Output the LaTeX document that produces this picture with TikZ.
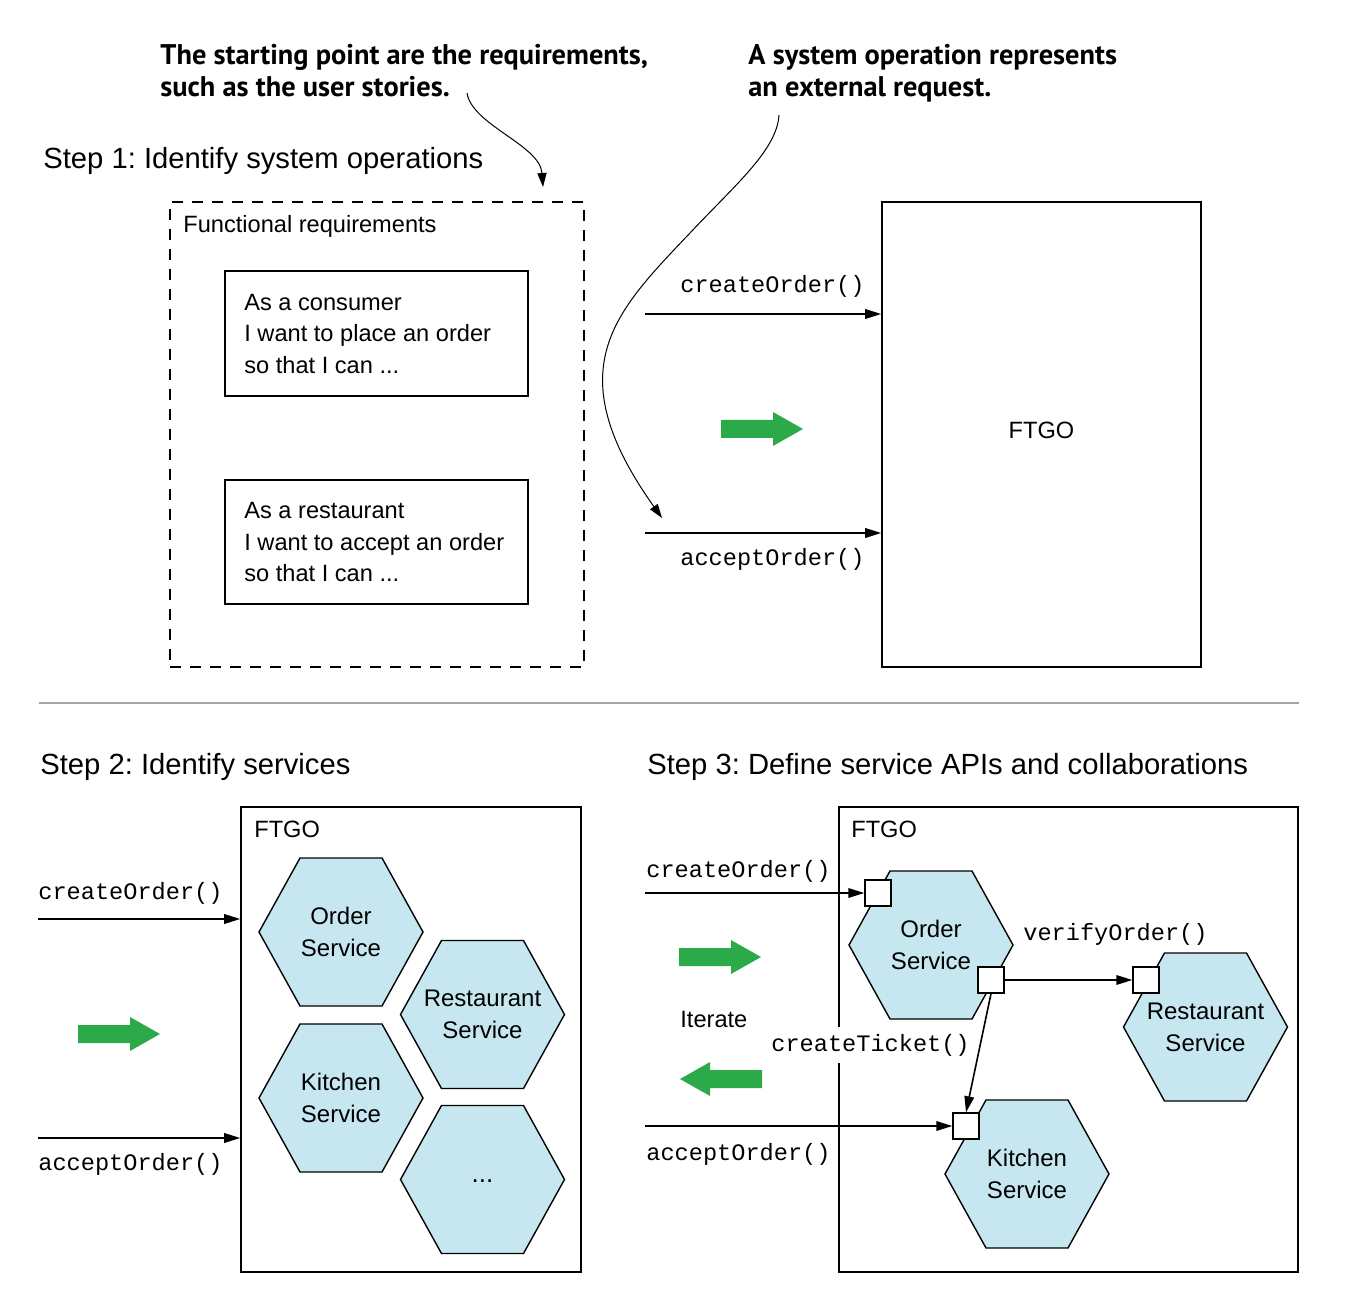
\documentclass[tikz,border=0pt]{standalone}
\usepackage{fontspec}
\setmainfont{Liberation Sans}
\setmonofont{Liberation Mono}
\newfontfamily\annfont{PT Sans}
\usetikzlibrary{arrows.meta}
\frenchspacing
\definecolor{hexfill}{RGB}{199,231,240}
\definecolor{gogreen}{RGB}{44,170,74}
\definecolor{sepgray}{RGB}{165,165,165}
\newcommand\HexCell[4]{%
  \draw[hexshape, shift={(#2,#3)}] (-82,0) -- (-41,-74) -- (41,-74) -- (82,0) -- (41,74) -- (-41,74) -- cycle;
  \node[hextext] (#1) at (#2,#3) {#4};}
\newcommand\GoArrow[3]{%
  \fill[gogreen, shift={(#1,#2)}, xscale=#3] (0,-9) -- (52,-9) -- (52,-17) -- (82,0) -- (52,17) -- (52,9) -- (0,9) -- cycle;}
\tikzset{
  conn/.style={line width=0.8pt, -{Triangle[length=8pt,width=4.8pt]}},
  curv/.style={line width=0.5pt, -{Triangle[length=7pt,width=4.6pt]}},
  frame/.style={draw, line width=0.8pt, inner sep=0pt},
  body/.style={font=\fontsize{11.8}{15.75}\selectfont},
  title/.style={anchor=base west, inner sep=0pt, font=\fontsize{14.6}{17}\selectfont},
  ann/.style={anchor=north west, inner sep=0pt, align=left, font=\annfont\bfseries\fontsize{14.2}{16}\selectfont},
  code/.style={anchor=base west, inner sep=0pt, font=\ttfamily\fontsize{11.8}{14}\selectfont},
  hexshape/.style={draw, fill=hexfill, line width=0.7pt, line join=miter},
  hextext/.style={align=center, inner sep=0pt, font=\fontsize{12}{16}\selectfont},
  port/.style={draw, fill=white, line width=0.7pt, minimum size=13pt, inner sep=0pt},
  storybox/.style={frame, minimum width=151.5pt, minimum height=62.5pt},
  storytext/.style={body, anchor=west, align=left, inner sep=0pt},
}
\begin{document}
\begin{tikzpicture}[x=0.5pt, y=-0.5pt]
\useasboundingbox (0,0) rectangle (1356,1316);

% ---------- annotations ----------
\node[ann] (ann1) at (160,44) {The starting point are the requirements,\\such as the user stories.};
\node[ann] (ann2) at (748,44) {A system operation represents\\an external request.};

% ---------- Step 1 ----------
\node[title] (t1) at (43,169) {Step 1: Identify system operations};
\node[frame, dash pattern=on 5.5pt off 4.5pt, minimum width=207pt, minimum height=232.5pt] (fr) at (377,434.5) {};
\node[body, anchor=north west, inner sep=0pt] (frl) at (183,215) {Functional requirements};
\node[storybox] (us1) at (376.5,333.5) {};
\node[storytext] (us1t) at (244,333.5) {As a consumer\\I want to place an order\\so that I can ...};
\node[storybox, minimum height=62pt] (us2) at (376.5,542) {};
\node[storytext] (us2t) at (244,542) {As a restaurant\\I want to accept an order\\so that I can ...};
\node[frame, minimum width=159.5pt, minimum height=232.5pt] (ftgo1) at (1041.5,434.5) {};
\node[body, inner sep=0pt] (ftgo1l) at (1041.5,430) {FTGO};

\coordinate (co1) at (645,314);
\coordinate (ao1) at (645,533);
\draw[conn] (co1) -- (co1 -| ftgo1.west);
\draw[conn] (ao1) -- (ao1 -| ftgo1.west);
\node[code] (co1l) at (680,293) {createOrder()};
\node[code] (ao1l) at (680,565) {acceptOrder()};
\GoArrow{721}{429}{1}

\coordinate (s1) at (467,93);
\coordinate (e1) at (543,187);
\draw[curv] (s1) .. controls (472,125) and (540,145) .. (e1);
\coordinate (s2) at (779,115);
\coordinate (m2) at (690,233);
\coordinate (e2) at (662,518);
\draw[curv] (s2) .. controls (777,150) and (735,185) .. (m2)
               .. controls (615,312) and (556,369) .. (e2);

% ---------- separator ----------
\draw[sepgray, line width=0.8pt] (39,703) -- (1299,703);

% ---------- Step 2 ----------
\node[title] (t2) at (40,774) {Step 2: Identify services};
\node[frame, minimum width=170pt, minimum height=232.5pt] (ftgo2) at (411,1039.5) {};
\node[body, anchor=north west, inner sep=0pt] (ftgo2l) at (254,821) {FTGO};
\HexCell{os2}{341}{932}{Order\\Service}
\HexCell{rs2}{482.5}{1014.5}{Restaurant\\Service}
\HexCell{ks2}{341}{1098}{Kitchen\\Service}
\HexCell{xs2}{482.5}{1179.5}{\raisebox{-3pt}{\fontsize{13}{16}\selectfont ...}}
\coordinate (co2) at (38,919);
\coordinate (ao2) at (38,1138);
\draw[conn] (co2) -- (co2 -| ftgo2.west);
\draw[conn] (ao2) -- (ao2 -| ftgo2.west);
\node[code] (co2l) at (38,899) {createOrder()};
\node[code] (ao2l) at (38,1170) {acceptOrder()};
\GoArrow{78}{1034}{1}

% ---------- Step 3 ----------
\node[title] (t3) at (647,774) {Step 3: Define service APIs and collaborations};
\node[frame, minimum width=229.5pt, minimum height=232.5pt] (ftgo3) at (1068.5,1039.5) {};
\node[body, anchor=north west, inner sep=0pt] (ftgo3l) at (851,821) {FTGO};
\HexCell{os3}{931}{945}{Order\\Service}
\HexCell{rs3}{1205.5}{1027}{Restaurant\\Service}
\HexCell{ks3}{1027}{1174}{Kitchen\\Service}
\node[port] (p1) at (878,893) {};
\node[port] (p2) at (991,980) {};
\node[port] (p3) at (1146,980) {};
\node[port] (p4) at (966,1126) {};
\coordinate (co3) at (645,893);
\coordinate (ao3) at (645,1126);
\draw[conn] (co3) -- (p1.west);
\draw[conn] (ao3) -- (p4.west);
\draw[conn] (p2.east) -- (p3.west);
\draw[conn] (p2.south) -- (p4.north);
\node[code] (co3l) at (646,877) {createOrder()};
\node[code] (ao3l) at (646,1160) {acceptOrder()};
\node[code] (vol) at (1023,940) {verifyOrder()};
\node[code, fill=white, inner ysep=3.5pt] (ctl) at (771,1051) {createTicket()};
\node[body, anchor=base west, inner sep=0pt] (it) at (680,1027) {Iterate};
\GoArrow{679}{957}{1}
\GoArrow{762}{1079}{-1}
\end{tikzpicture}
\end{document}
